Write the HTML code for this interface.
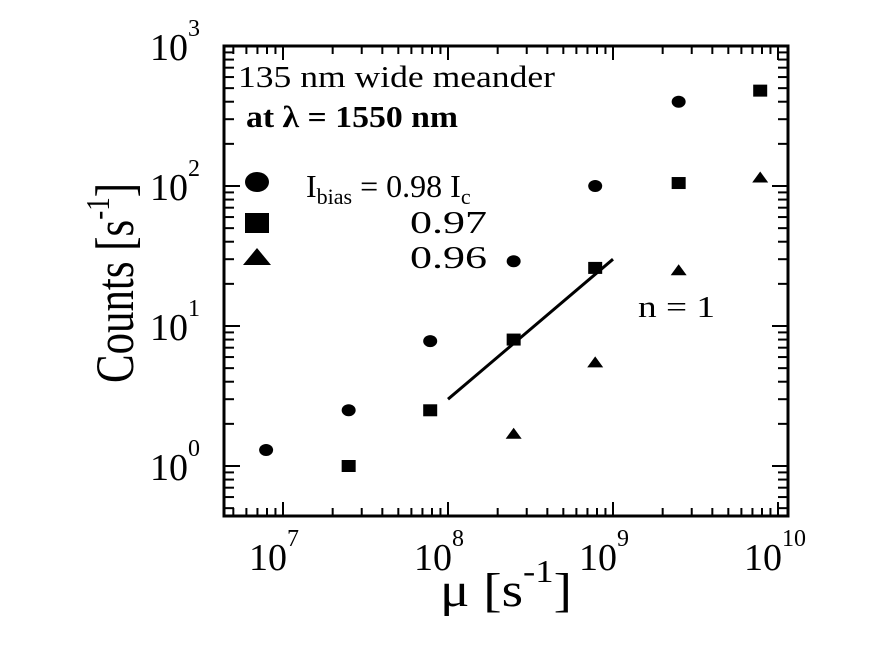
<!DOCTYPE html>
<html><head><meta charset="utf-8"><style>
html,body{margin:0;padding:0;background:#fff;}
svg, svg text{font-family:"Liberation Serif","DejaVu Serif",serif;}
</style></head><body>
<svg id="chart" width="869" height="652" viewBox="0 0 869 652" xmlns="http://www.w3.org/2000/svg" font-family="Liberation Serif, DejaVu Serif, serif">
<rect x="0" y="0" width="869" height="652" fill="#fff"/>
<g id="ticks"></g>
<rect x="224" y="46" width="564" height="470" fill="none" stroke="#000" stroke-width="3"/>
<g id="marks"></g>
<g id="labels" font-size="38"></g>
<text transform="translate(133,383) rotate(-90)" font-size="54" textLength="200" lengthAdjust="spacingAndGlyphs">Counts [s<tspan dy="-24" font-size="34">-1</tspan><tspan dy="24">]</tspan></text>
<text x="440" y="606" font-size="48" textLength="132" lengthAdjust="spacingAndGlyphs">μ [s<tspan dy="-24" font-size="32">-1</tspan><tspan dy="24">]</tspan></text>
<text x="238" y="87" font-size="31" textLength="317" lengthAdjust="spacingAndGlyphs">135 nm wide meander</text>
<text x="246" y="127" font-size="31" font-weight="bold" textLength="212" lengthAdjust="spacingAndGlyphs">at λ = 1550 nm</text>
<g>
<ellipse cx="257" cy="182" rx="12" ry="10"/>
<rect x="245" y="213" width="24" height="20"/>
<polygon points="243,265 257,248 271,265"/>
<text x="306" y="197" font-size="32">I<tspan font-size="22" dy="7">bias</tspan><tspan dy="-7"> = 0.98 I</tspan><tspan font-size="22" dy="7">c</tspan></text>
<text x="410" y="233" font-size="32" textLength="77" lengthAdjust="spacingAndGlyphs">0.97</text>
<text x="410" y="268" font-size="32" textLength="77" lengthAdjust="spacingAndGlyphs">0.96</text>
</g>
<text x="638" y="317" font-size="31" textLength="77" lengthAdjust="spacingAndGlyphs">n = 1</text>
</svg>
<script>
const xs098 = [7.9e6, 2.5e7, 7.8e7, 2.5e8, 7.8e8, 2.5e9];
const ys098 = [1.3, 2.5, 7.8, 29, 100, 400];
const xs097 = [2.5e7, 7.8e7, 2.5e8, 7.8e8, 2.5e9, 7.8e9];
const ys097 = [1.0, 2.5, 8.0, 26, 105, 480];
const xs096 = [2.5e8, 7.8e8, 2.5e9, 7.8e9];
const ys096 = [1.7, 5.5, 25, 115];
const fitX = [1e8, 1e9];
const fitY = [3, 30];
const xTickExps = [7, 8, 9, 10];
const yTickExps = [0, 1, 2, 3];

const NS = "http://www.w3.org/2000/svg";
function X(v){ return 448 + (Math.log10(v) - 8) * 165; }
function Y(v){ return 466 - Math.log10(v) * 140; }
function mk(tag, attrs, parent){
  const e = document.createElementNS(NS, tag);
  for (const k in attrs) e.setAttribute(k, attrs[k]);
  parent.appendChild(e); return e;
}
const marks = document.getElementById('marks');
const ticks = document.getElementById('ticks');
const labels = document.getElementById('labels');

for (let d = 6; d <= 10; d++) {
  for (let m = 1; m <= 9; m++) {
    const v = m * Math.pow(10, d), x = X(v);
    if (x < 225 || x > 787) continue;
    const len = m === 1 ? 14 : 8;
    const t1 = mk('line', {x1:x, y1:516, x2:x, y2:516-len, stroke:'#000', 'stroke-width':2}, ticks);
    
    
    const t2 = mk('line', {x1:x, y1:46, x2:x, y2:46+len, stroke:'#000', 'stroke-width':2}, ticks);
    
    
  }
}
for (let d = -1; d <= 3; d++) {
  for (let m = 1; m <= 9; m++) {
    const v = m * Math.pow(10, d), y = Y(v);
    if (y > 515 || y < 47) continue;
    const len = m === 1 ? 16 : 10;
    const t1 = mk('line', {x1:224, y1:y, x2:224+len, y2:y, stroke:'#000', 'stroke-width':2}, ticks);
    
    
    const t2 = mk('line', {x1:788, y1:y, x2:788-len, y2:y, stroke:'#000', 'stroke-width':2}, ticks);
    
    
  }
}
xTickExps.forEach(e => {
  const t = mk('text', {x: X(Math.pow(10, e)) - 34, y: 570}, labels);
  
  
  t.innerHTML = '10<tspan dy="-24" font-size="24">' + e + '</tspan>';
});
yTickExps.forEach(e => {
  const t = mk('text', {x: 150, y: Y(Math.pow(10, e)) + 14}, labels);
  
  
  t.innerHTML = '10<tspan dy="-24" font-size="24">' + e + '</tspan>';
});
const fl = mk('line', {x1:X(fitX[0]), y1:Y(fitY[0]), x2:X(fitX[1]), y2:Y(fitY[1]), stroke:'#000', 'stroke-width':3}, marks);


xs098.forEach((v, i) => {
  const c = mk('ellipse', {cx:X(v), cy:Y(ys098[i]), rx:7, ry:6}, marks);
  
  
});
xs097.forEach((v, i) => {
  const s = mk('rect', {x:X(v)-7, y:Y(ys097[i])-6, width:14, height:12}, marks);
  
  
});
xs096.forEach((v, i) => {
  const x = X(v), y = Y(ys096[i]);
  const p = mk('polygon', {points:(x-8)+','+(y+5)+' '+x+','+(y-6)+' '+(x+8)+','+(y+5)}, marks);
  
  
});
</script>
</body></html>
